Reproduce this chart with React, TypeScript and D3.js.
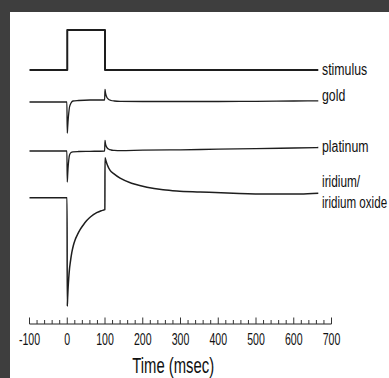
import React from "react";
import * as d3 from "d3";

const W = 389;
const H = 378;

// time axis
const majorTicks = [-100, 0, 100, 200, 300, 400, 500, 600, 700];
const minorTicks = d3.range(-100, 701, 20);
const axisTitle = "Time (msec)";

// trace names / labels
const traceLabels = [["stimulus"], ["gold"], ["platinum"], ["iridium/", "iridium oxide"]];
// baseline level of each trace (in display units)
const traceOffsets = [254, 222, 173, 126.3];

// stimulus
const stimT = [-100, 0, 0, 100, 100, 665];
const stimV = [0, 0, 40, 40, 0, 0];

// gold
const goldT = [-100, -1, 0, 1, 2, 4, 6, 10, 15, 30, 60, 99, 100, 101, 103, 106, 110, 116, 125, 140, 200, 300, 400, 500, 600, 665];
const goldV = [0, 0, -31, -26, -20, -11, -5, -1, 1, 1.5, 2, 2, 12.5, 10, 6.5, 4, 2.5, 1.5, 1, 0.7, 0.5, 0.5, 0.5, 0.7, 1, 1.2];

// platinum
const platT = [-100, -1, 0, 1, 2, 4, 6, 10, 15, 30, 60, 99, 100, 101, 103, 106, 110, 116, 125, 140, 200, 300, 400, 500, 600, 665];
const platV = [0, 0, -31, -25, -18, -9, -4, -1.5, -0.8, -0.5, -0.3, 0, 10.5, 8, 5, 3, 1.8, 1, 0.6, 0.3, 0.8, 1.2, 1.8, 2.3, 3, 3.5];

// iridium / iridium oxide
const iridT = [-100, -0.5, 0, 1, 2, 4, 6, 8, 12, 16, 21, 27, 34, 42, 51, 62, 78, 90, 99, 99.7, 100, 102, 106, 114, 123, 140, 167, 175, 211, 254, 290, 352, 440, 529, 617, 665];
const iridV = [0, 0, -108.5, -100, -92, -80, -71, -65, -55, -48, -42, -37, -32, -27.5, -23, -19, -15, -13, -12, -11.8, 40, 37.5, 33, 27, 24, 19.5, 15, 14, 10.5, 8, 6.8, 5.8, 4.5, 3.7, 3.7, 4.5];

const series = [
  { t: stimT, v: stimV, width: 2 },
  { t: goldT, v: goldV, width: 1.3 },
  { t: platT, v: platV, width: 1.3 },
  { t: iridT, v: iridV, width: 1.5 },
];

const x = d3.scaleLinear().domain([-100, 700]).range([29.5, 331.5]);
const y = d3.scaleLinear().domain([0, 300]).range([324, 24]);

const labelX = 322;
const labelBaselines = [[75], [100.5], [152.3], [186.7, 208.3]];
const labelScales = [[0.77], [0.77], [0.77], [0.74, 0.725]];

const FONT = "'Liberation Sans', Arial, sans-serif";

export default function App() {
  const axisY = y(0);
  return (
    <svg
      width={W}
      height={H}
      style={{ position: "absolute", left: 0, top: 0, display: "block" }}
    >
      <rect x={0} y={0} width={W} height={H} fill="#3e3e3e" />
      <rect x={10} y={12} width={W - 10} height={H - 12} fill="#ffffff" />

      {series.map((s, i) => {
        const pts: [number, number][] = s.t.map((t, k) => [t, s.v[k] + traceOffsets[i]]);
        const line = d3
          .line<[number, number]>()
          .x((d) => x(d[0]))
          .y((d) => y(d[1]))
          .curve(i === 0 ? d3.curveLinear : d3.curveMonotoneX);
        return (
          <path
            key={i}
            d={line(pts) || ""}
            fill="none"
            stroke="#1e1e1e"
            strokeWidth={s.width}
            strokeLinejoin="round"
          />
        );
      })}

      {traceLabels.map((lines, i) =>
        lines.map((txt, j) => (
          <g key={i + "-" + j} transform={`translate(${labelX},${labelBaselines[i][j]}) scale(${labelScales[i][j]},1)`}>
            <text x={0} y={0} fontFamily={FONT} fontSize={16} fill="#111">
              {txt}
            </text>
          </g>
        ))
      )}

      {/* axis */}
      <line x1={x(-100)} x2={x(700)} y1={axisY} y2={axisY} stroke="#222" strokeWidth={1.1} />
      {minorTicks.map((t) => (
        <line
          key={"m" + t}
          x1={x(t)}
          x2={x(t)}
          y1={axisY}
          y2={axisY - (t % 100 === 0 ? 6.5 : 4)}
          stroke="#333"
          strokeWidth={1}
        />
      ))}
      {majorTicks.map((t) => (
        <g key={"l" + t} transform={`translate(${x(t)},345) scale(0.64,1)`}>
          <text x={0} y={0} textAnchor="middle" fontFamily={FONT} fontSize={16.5} fill="#111">
            {t}
          </text>
        </g>
      ))}
      <g transform={`translate(173.2,372.5) scale(0.69,1)`}>
        <text x={0} y={0} textAnchor="middle" fontFamily={FONT} fontSize={21.5} fill="#111">
          {axisTitle}
        </text>
      </g>
    </svg>
  );
}
